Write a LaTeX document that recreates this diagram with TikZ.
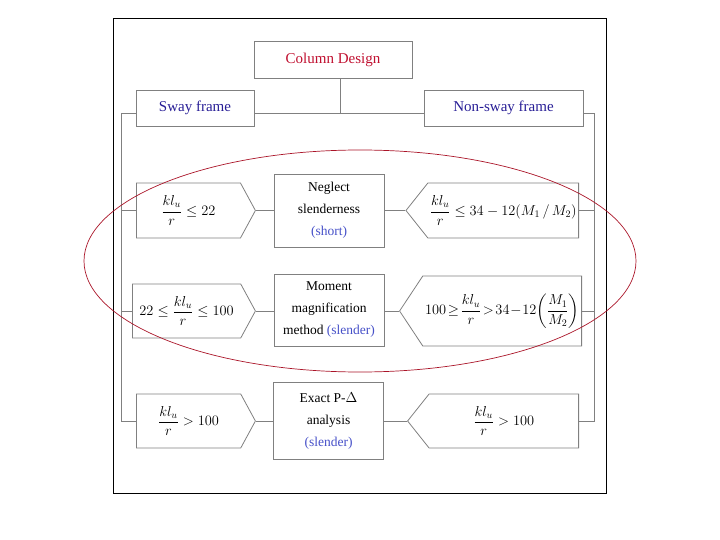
\documentclass[tikz,border=0pt]{standalone}
\usepackage{amsmath}
\usepackage{fontspec}
\setmainfont{Liberation Serif}
\usetikzlibrary{shapes.symbols}
\definecolor{titlered}{RGB}{192,16,48}
\definecolor{framebl}{RGB}{40,30,150}
\definecolor{notebl}{RGB}{70,80,200}
\definecolor{ringred}{RGB}{170,20,40}

\begin{document}
\begin{tikzpicture}[x=1pt, y=-1pt, line width=0.8pt,
                    every node/.style={font=\fontsize{13.5}{22}\selectfont}]
\tikzstyle{boite}=[draw=gray, rectangle, align=center, inner sep=2pt]
\tikzstyle{cadre}=[boite, minimum height=36pt, text=framebl, font=\fontsize{15}{17}\selectfont]
\tikzstyle{methode}=[boite, minimum width=110pt]
% pentagones : signal de la bibliotheque shapes.symbols
\tikzstyle{critere}=[draw=gray, signal, minimum height=55pt, inner sep=2pt,
                     font=\fontsize{14}{16}\selectfont]
\tikzstyle{versd}=[critere, signal to=east, anchor=west]
\tikzstyle{versg}=[critere, signal to=west, anchor=east]
\tikzstyle{lien}=[draw=gray]

\useasboundingbox (0,0) rectangle (720,540);
\draw[black] (113,18) rectangle (606,493);

\node[boite, minimum width=158pt, minimum height=37pt, text=titlered,
      font=\fontsize{15}{17}\selectfont] (design) at (333,60) {Column Design};
\node[cadre, minimum width=118pt] (sway) at (195,108) {Sway frame};
\node[cadre, minimum width=159pt] (nonsway) at (503.5,108) {Non-sway frame};
\coordinate (hub) at (340,113);
\coordinate (lv) at (121,113);
\coordinate (rv) at (594,113);

\node[versd, minimum width=119pt, signal pointer angle=123] (l1) at (136,210.5)
     {$\dfrac{kl_u}{r}\le 22$};
\node[methode, minimum height=73pt] (m1) at (329,210.5)
     {Neglect\\slenderness\\\textcolor{notebl}{(short)}};
\node[versg, minimum width=171pt, signal pointer angle=103] (r1) at (579,210.5)
     {$\dfrac{kl_u}{r}\le 34-12(M_1\,/\,M_2)$};

\node[versd, minimum width=123pt, minimum height=54pt, signal pointer angle=123] (l2) at (132,311)
     {$22\le\dfrac{kl_u}{r}\le 100$};
\node[methode, minimum height=72pt] (m2) at (329,310)
     {Moment\\magnification\\method \textcolor{notebl}{(slender)}};
\node[versg, minimum width=182pt, minimum height=70pt, signal pointer angle=113,
      inner sep=0pt] (r2) at (582,311)
     {$\thickmuskip=2mu\medmuskip=1mu
       100\ge\dfrac{kl_u}{r}>34-12\!\left(\dfrac{M_1}{M_2}\right)$};

\node[versd, minimum width=119pt, minimum height=54pt, signal pointer angle=123] (l3) at (136,421)
     {$\dfrac{kl_u}{r}>100$};
\node[methode, minimum height=77pt] (m3) at (328.5,421)
     {Exact P-$\Delta$\\analysis\\\textcolor{notebl}{(slender)}};
\node[versg, minimum width=171pt, minimum height=54pt, signal pointer angle=103] (r3) at (579,421)
     {$\dfrac{kl_u}{r}>100$};

\path[lien]
    (hub |- design.south) -- (hub)
    (sway.east |- hub) -- (nonsway.west |- hub)
    (sway.west |- hub) -- (lv) |- (l3.west)
    (nonsway.east |- hub) -- (rv) |- (r3.east)
    (l1.west) -- (l1.west -| lv)
    (l2.west) -- (l2.west -| lv)
    (r1.east) -- (r1.east -| rv)
    (r2.east) -- (r2.east -| rv)
    (l1.east) -- (m1.west)
    (l2.east) -- (l2.east -| m2.west)
    (l3.east) -- (m3.west)
    (m1.east) -- (r1.west)
    (r2.west -| m2.east) -- (r2.west)
    (m3.east) -- (r3.west);

\draw[ringred, line width=0.7pt] (360,261) ellipse [x radius=276, y radius=111];
\end{tikzpicture}
\end{document}
